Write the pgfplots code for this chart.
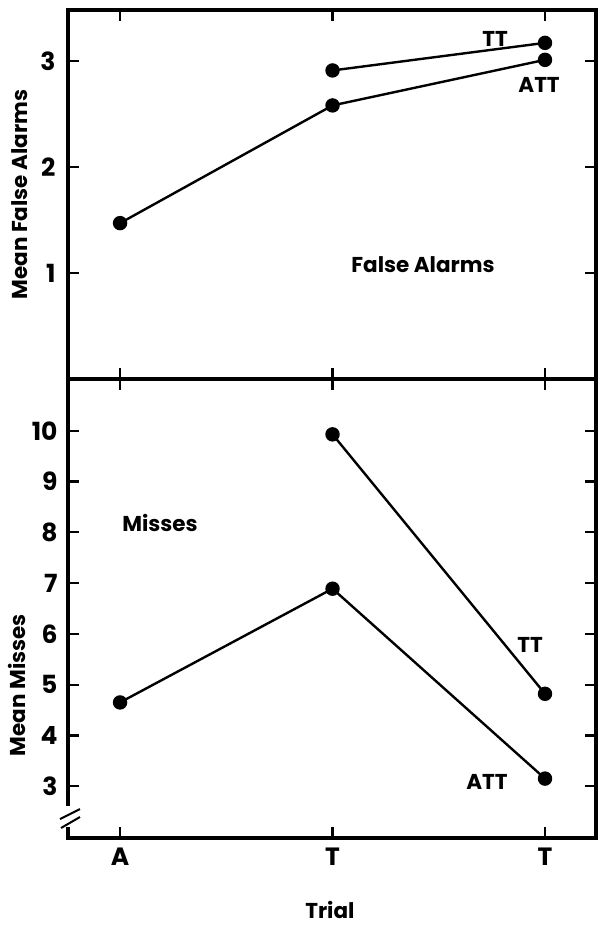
\documentclass[border=0pt]{standalone}
\usepackage{pgfplots}
\pgfplotsset{compat=1.18}
\usepackage{fontspec}
\setmainfont{Poppins}
\tikzset{note/.style={font=\fontsize{21.5}{21.5}\selectfont\bfseries},
  ser/.style={black, line width=2.4pt, mark=*, mark size=6pt, mark options={solid, fill=black}}}
\pgfplotsset{
 panel/.style={
  scale only axis, width=528pt, xmin=-0.245, xmax=2.24,
  axis line style={line width=3.5pt},
  tick style={line width=2.2pt, black},
  major tick length=11pt,
  tick align=inside,
  xtick={0,1,2},
  /pgf/number format/assume math mode=true,
  ticklabel style={font=\fontsize{25}{25}\selectfont\bfseries},
  label style={font=\fontsize{21.5}{21.5}\selectfont\bfseries},
  clip=false,
 },
}
\begin{document}
\begin{tikzpicture}[x=1pt,y=1pt]
\path[use as bounding box] (0,0) rectangle (598,-934);
\begin{axis}[panel, at={(68pt,-379pt)}, anchor=south west, height=369pt,
  ymin=0, ymax=3.48, ytick={1,2,3}, xticklabels={},
  yticklabel style={xshift=-9pt},
  ylabel={Mean False Alarms},
  ylabel style={at={(axis description cs:-0.091,0.5)}, anchor=center}]
\addplot[ser] coordinates {(0,1.47) (1,2.58) (2,3.01)};
\addplot[ser] coordinates {(1,2.91) (2,3.17)};
\node[note] at (axis cs:1.765,3.21) {TT};
\node[note] at (axis cs:1.972,2.77) {ATT};
\node[note] at (axis cs:1.426,1.075) {False Alarms};
\end{axis}
\begin{axis}[panel, at={(68pt,-838pt)}, anchor=south west, height=459pt,
  ymin=1.98, ymax=11.02, ytick={3,4,5,6,7,8,9,10}, xticklabels={A,T,T},
  yticklabel style={xshift=-7pt}, xticklabel style={yshift=-6pt},
  ylabel={Mean Misses},
  ylabel style={at={(axis description cs:-0.097,0.333)}, anchor=center},
  xlabel={Trial},
  xlabel style={at={(axis description cs:0.496,-0.157)}, anchor=center}]
\addplot[ser] coordinates {(0,4.65) (1,6.89) (2,3.15)};
\addplot[ser] coordinates {(1,9.93) (2,4.82)};
\node[note] at (axis cs:0.188,8.18) {Misses};
\node[note] at (axis cs:1.93,5.78) {TT};
\node[note] at (axis cs:1.727,3.08) {ATT};
\end{axis}
\fill[white] (60,-806) rectangle (78,-827);
\draw[line width=2pt] (60,-819) -- (80,-809);
\draw[line width=2pt] (61,-828) -- (80,-817);
\end{tikzpicture}
\end{document}
